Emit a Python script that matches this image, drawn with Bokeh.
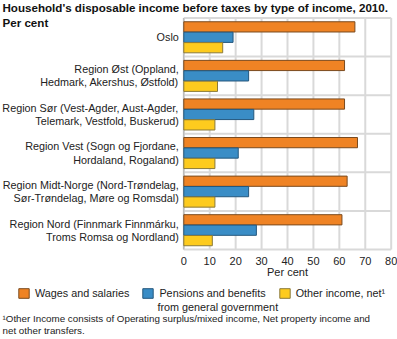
from bokeh.plotting import figure
from bokeh.models import ColumnDataSource, Legend, LegendItem, Label, Range1d
from bokeh.core.properties import value
from bokeh.embed import file_html
from bokeh.resources import INLINE

# ---- data ----
regions = [
    "Oslo",
    "Region Øst (Oppland,\nHedmark, Akershus, Østfold)",
    "Region Sør (Vest-Agder, Aust-Agder,\nTelemark, Vestfold, Buskerud)",
    "Region Vest (Sogn og Fjordane,\nHordaland, Rogaland)",
    "Region Midt-Norge (Nord-Trøndelag,\nSør-Trøndelag, Møre og Romsdal)",
    "Region Nord (Finnmark Finnmárku,\nTroms Romsa og Nordland)",
]
wages = [66, 62, 62, 67, 63, 61]
pensions = [19, 25, 27, 21, 25, 28]
other = [15, 13, 12, 12, 12, 11]
series_names = ["Wages and salaries", "Pensions and benefits", "Other income, net¹"]
series_name_cont = "from general government"
x_ticks = [0, 10, 20, 30, 40, 50, 60, 70, 80]
x_label = "Per cent"
title_lines = ["Household's disposable income before taxes by type of income, 2010.", "Per cent"]
footnote = "¹Other Income consists of Operating surplus/mixed income, Net property income and\nnet other transfers."

# ---- style ----
colors = ["#EF8324", "#3A8DC6", "#FDCB1E"]
edge = ["#7a4a1e", "#24577d", "#8a7a3a"]
grid_col = "#d9d9d9"
FONT = "Liberation Sans"
W, H = 397, 339
PL, PR, PT, PB = 183.3, 390.7, 17.5, 249.0   # plot-area edges in pixels

n = len(regions)
centers = [n - 1 - i + 0.5 for i in range(n)]
xmin, xmax = x_ticks[0], x_ticks[-1]
sx = (PR - PL) / (xmax - xmin)
sy = (PB - PT) / n

p = figure(width=W, height=H, output_backend="svg", toolbar_location=None,
           x_axis_type=None, y_axis_type=None,
           x_range=Range1d(xmin - PL / sx, xmax + (W - PR) / sx),
           y_range=Range1d(-(H - PB) / sy, n + PT / sy),
           min_border=0, min_border_left=0, min_border_right=0,
           min_border_top=0, min_border_bottom=0)
p.title.visible = False
p.outline_line_color = None
p.grid.visible = False

# grid lines (vertical at ticks, horizontal between categories)
p.segment(x0=x_ticks, y0=[0] * len(x_ticks), x1=x_ticks, y1=[n] * len(x_ticks),
          line_color=grid_col, line_width=2)
bounds = list(range(n + 1))
p.segment(x0=[xmin] * len(bounds), y0=bounds, x1=[xmax] * len(bounds), y1=bounds,
          line_color=grid_col, line_width=2)
p.segment(x0=[xmin], y0=[0], x1=[xmin], y1=[n], line_color="#b0b0b0", line_width=1)

# bars
offsets = [0.27, 0.0, -0.27]
renderers = []
for vals, off, c, e in zip([wages, pensions, other], offsets, colors, edge):
    src = ColumnDataSource(dict(y=[ce + off for ce in centers], right=vals))
    r = p.hbar(y="y", left=0, right="right", height=0.265, source=src,
               fill_color=c, line_color=e, line_width=1)
    renderers.append(r)

# category labels (left)
p.text(x=[xmin] * n, y=centers, text=regions, x_offset=-5,
       text_align="right", text_baseline="middle", text_font=value(FONT),
       text_font_size="10.8px", text_color="#222222", text_line_height=1.1)

# x tick labels and axis label
p.text(x=x_ticks, y=[0] * len(x_ticks), text=[str(t) for t in x_ticks], y_offset=11,
       text_align="center", text_baseline="middle", text_font=value(FONT),
       text_font_size="11px", text_color="#222222")
p.text(x=[(xmin + xmax) / 2], y=[0], text=[x_label], y_offset=22,
       text_align="center", text_baseline="middle", text_font=value(FONT),
       text_font_size="11px", text_color="#222222")

# titles
for txt, top in zip(title_lines, [0.5, 15]):
    p.add_layout(Label(x=2, y=H - top, x_units="screen", y_units="screen", text=txt,
                       text_baseline="top", text_font=FONT, text_font_size="11.6px",
                       text_font_style="bold", text_color="#111111"))

# legend
legend = Legend(items=[LegendItem(label=s, renderers=[r]) for s, r in zip(series_names, renderers)],
                orientation="horizontal", label_text_font=FONT, label_text_font_size="10.8px",
                label_text_color="#222222",
                glyph_width=13, glyph_height=12, label_height=12, spacing=12, padding=0, margin=0,
                border_line_color=None, background_fill_alpha=0, label_standoff=5,
                location=(17, H - 299))
p.add_layout(legend, "center")
p.add_layout(Label(x=157, y=H - 300, x_units="screen", y_units="screen", text=series_name_cont,
                   text_baseline="top", text_font=FONT, text_font_size="10.8px", text_color="#222222"))

# footnote
p.add_layout(Label(x=2, y=H - 312, x_units="screen", y_units="screen", text=footnote,
                   text_baseline="top", text_font=FONT, text_font_size="9.8px",
                   text_line_height=1.17, text_color="#222222"))

open("out.html", "w").write(file_html(p, INLINE))
